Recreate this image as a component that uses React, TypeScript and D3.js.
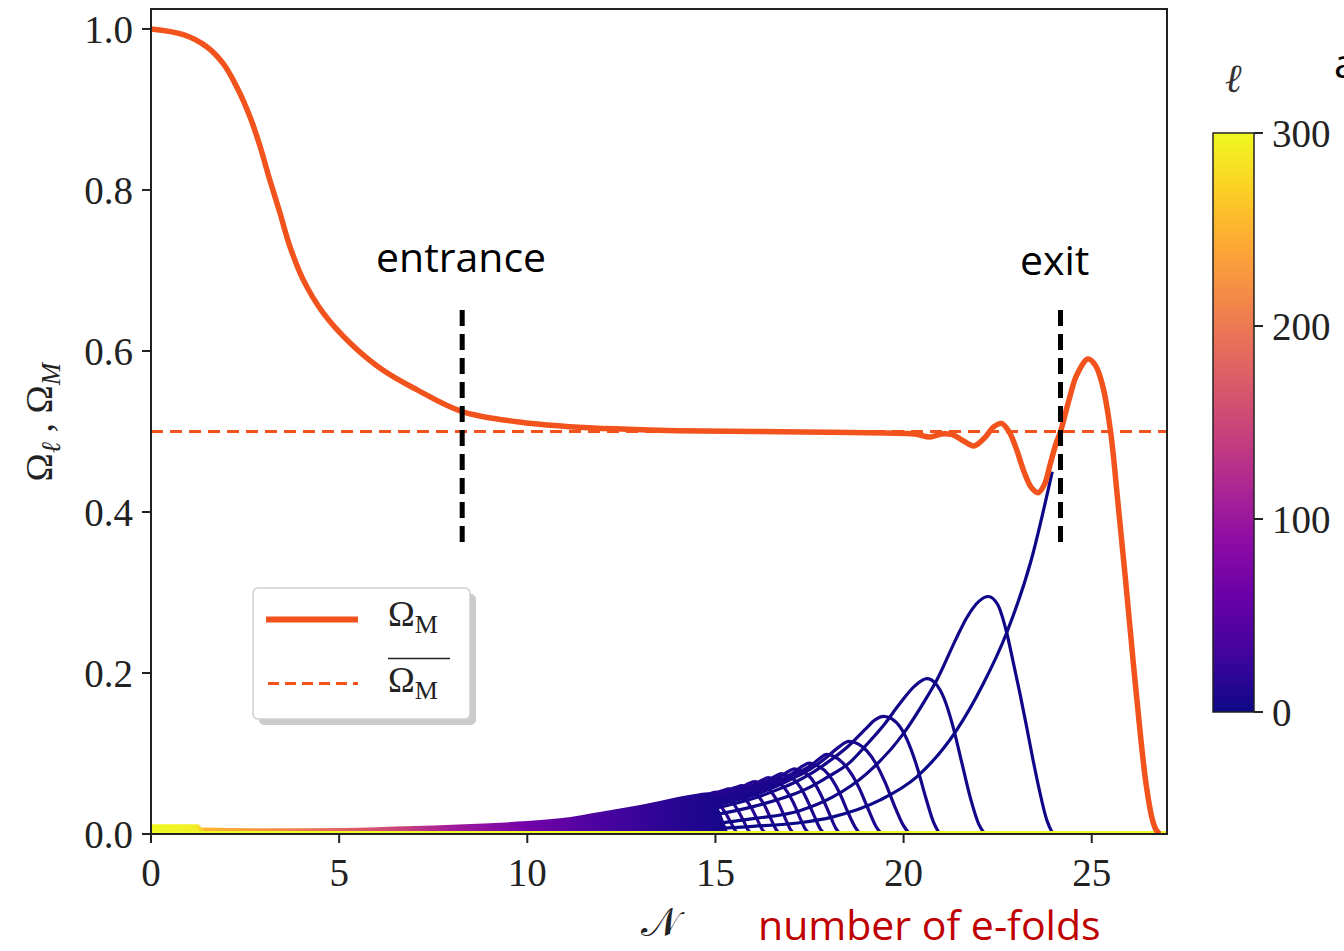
import React from "react";
import * as d3 from "d3";

// ---------- axis ticks ----------
const xTicks = [0, 5, 10, 15, 20, 25];
const yTicks = [0, 0.2, 0.4, 0.6, 0.8, 1.0];
const cbTicks = [0, 100, 200, 300];

// ---------- Omega_M (orange) ----------
const omegaN = [0, 0.86, 1.48, 1.92, 2.28, 2.63, 2.9, 3.16, 3.43, 3.69, 4.05, 4.58, 5.29, 6.17, 7.06, 8.25, 9.72, 11.13, 12.5, 14, 16, 18, 19.5, 20.3, 20.7, 21.0, 21.3, 21.6, 21.87, 22.15, 22.4, 22.6, 22.8, 23.0, 23.2, 23.4, 23.58, 23.75, 23.9, 24.05, 24.17, 24.4, 24.6, 24.9, 25.1, 25.3, 25.5, 25.7, 25.9, 26.1, 26.3, 26.45, 26.6, 26.7, 26.8];
const omegaM = [1.0, 0.993, 0.978, 0.957, 0.928, 0.891, 0.854, 0.812, 0.771, 0.73, 0.688, 0.647, 0.61, 0.576, 0.552, 0.525, 0.512, 0.506, 0.503, 0.501, 0.5, 0.499, 0.498, 0.497, 0.493, 0.497, 0.496, 0.488, 0.482, 0.492, 0.506, 0.51, 0.5, 0.478, 0.45, 0.43, 0.424, 0.435, 0.46, 0.485, 0.5, 0.54, 0.57, 0.59, 0.582, 0.555, 0.5, 0.41, 0.315, 0.215, 0.12, 0.06, 0.02, 0.006, 0.0];

// mean Omega_M (dashed)
const meanN = [0, 27];
const meanM = [0.5, 0.5];

// ---------- entrance / exit markers ----------
const entranceN = 8.27;
const exitN = 24.17;
const markerLow = 0.357;
const markerHigh = 0.651;

// ---------- dense band of high-ell curves (upper boundary) ----------
const bandN = [0, 1.25, 1.35, 3, 5, 6, 7, 8, 9, 10, 10.87, 12, 13, 13.52, 14, 14.5, 14.8, 15.05, 15.35];
const bandTop = [0.012, 0.012, 0.008, 0.007, 0.0075, 0.0085, 0.0098, 0.0115, 0.0135, 0.016, 0.0195, 0.028, 0.036, 0.041, 0.046, 0.05, 0.052, 0.035, 0.0];
const bandStopN = [0, 1.2, 1.45, 3, 5, 6.5, 8, 10, 12, 14, 15.35];
const bandStopEll = [300, 292, 250, 225, 180, 150, 105, 66, 36, 12, 4];

// ---------- individual Omega_ell curves ----------
const curveEll = [1, 2, 3, 4, 5, 6, 7, 8, 9, 10, 11, 12, 13, 14, 15, 16];
const curveL1 = [[14, 0.005], [15, 0.007], [16, 0.0095], [17.24, 0.014], [18.1, 0.021], [19.37, 0.042], [20.35, 0.071], [21.41, 0.129], [22.1, 0.185], [22.74, 0.25], [23.39, 0.34], [23.95, 0.45]];
const curveP1 = [[14, 0.009], [15, 0.013], [16, 0.019], [17.24, 0.029], [18.12, 0.046], [19.02, 0.075], [20.0, 0.125], [20.62, 0.17], [20.88, 0.191], [21.4, 0.243], [21.67, 0.268], [22.0, 0.289], [22.25, 0.295], [22.5, 0.285], [22.74, 0.25], [22.92, 0.212], [23.09, 0.175], [23.27, 0.133], [23.44, 0.092], [23.62, 0.052], [23.8, 0.018], [23.97, 0]];
const curveP2 = [[14, 0.017], [15, 0.024], [16, 0.034], [17, 0.048], [17.5, 0.058], [17.95, 0.07], [18.55, 0.088], [19.0, 0.11], [19.47, 0.135], [19.9, 0.162], [20.3, 0.184], [20.62, 0.193], [20.85, 0.187], [21.08, 0.168], [21.31, 0.134], [21.54, 0.09], [21.78, 0.044], [22.0, 0.012], [22.16, 0]];
const curveP3 = [[14, 0.023], [15, 0.032], [16, 0.044], [16.75, 0.057], [17.1, 0.064], [17.5, 0.074], [17.95, 0.088], [18.55, 0.11], [19.0, 0.131], [19.25, 0.142], [19.47, 0.146], [19.69, 0.143], [19.92, 0.132], [20.14, 0.112], [20.36, 0.083], [20.59, 0.045], [20.8, 0.014], [20.96, 0]];
const curveP4 = [[14, 0.026], [15, 0.036], [16, 0.048], [16.4, 0.055], [16.75, 0.062], [17.1, 0.07], [17.5, 0.08], [17.95, 0.095], [18.25, 0.107], [18.55, 0.115], [18.79, 0.112], [19.03, 0.103], [19.27, 0.087], [19.51, 0.064], [19.75, 0.036], [19.99, 0.011], [20.16, 0]];
const curveP5 = [[14, 0.028], [15, 0.038], [16, 0.051], [16.4, 0.058], [16.75, 0.065], [17.1, 0.074], [17.5, 0.084], [17.75, 0.093], [17.95, 0.099], [18.17, 0.096], [18.39, 0.088], [18.61, 0.075], [18.83, 0.056], [19.05, 0.032], [19.27, 0.009], [19.42, 0]];
const curveP6 = [[14, 0.03], [15, 0.04], [15.7, 0.049], [16.05, 0.054], [16.4, 0.061], [16.75, 0.068], [17.1, 0.077], [17.3, 0.084], [17.5, 0.088], [17.7, 0.085], [17.9, 0.079], [18.11, 0.067], [18.31, 0.05], [18.51, 0.028], [18.72, 0.008], [18.85, 0]];
const curveP7 = [[14, 0.033], [15, 0.042], [15.35, 0.047], [15.7, 0.052], [16.05, 0.057], [16.4, 0.064], [16.75, 0.072], [16.95, 0.078], [17.1, 0.081], [17.28, 0.078], [17.47, 0.073], [17.65, 0.062], [17.83, 0.046], [18.02, 0.026], [18.2, 0.007], [18.32, 0]];
const curveP8 = [[14, 0.035], [15, 0.044], [15.35, 0.049], [15.7, 0.054], [16.05, 0.06], [16.4, 0.067], [16.6, 0.072], [16.75, 0.075], [16.92, 0.072], [17.1, 0.067], [17.27, 0.057], [17.44, 0.042], [17.61, 0.024], [17.79, 0.006], [17.9, 0]];
const curveP9 = [[14, 0.036], [15, 0.046], [15.35, 0.051], [15.7, 0.056], [16.05, 0.062], [16.25, 0.067], [16.4, 0.07], [16.57, 0.067], [16.73, 0.062], [16.9, 0.053], [17.06, 0.04], [17.23, 0.022], [17.39, 0.006], [17.5, 0]];
const curveP10 = [[14, 0.038], [15, 0.048], [15.35, 0.053], [15.7, 0.058], [15.9, 0.063], [16.05, 0.065], [16.21, 0.063], [16.37, 0.058], [16.52, 0.05], [16.68, 0.038], [16.84, 0.021], [17.0, 0.005], [17.1, 0]];
const curveP11 = [[14, 0.039], [15, 0.05], [15.35, 0.055], [15.55, 0.058], [15.7, 0.06], [15.85, 0.058], [16.0, 0.054], [16.16, 0.046], [16.31, 0.035], [16.46, 0.02], [16.62, 0.005], [16.72, 0]];
const curveP12 = [[14, 0.04], [15, 0.051], [15.2, 0.054], [15.35, 0.056], [15.5, 0.054], [15.65, 0.05], [15.8, 0.043], [15.95, 0.033], [16.1, 0.019], [16.25, 0.005], [16.35, 0]];
const curveP13 = [[14, 0.041], [14.8, 0.049], [15.0, 0.052], [15.15, 0.05], [15.3, 0.046], [15.44, 0.04], [15.59, 0.03], [15.74, 0.017], [15.88, 0.004], [15.98, 0]];
const curveP14 = [[14, 0.041], [14.5, 0.046], [14.65, 0.047], [14.8, 0.046], [14.95, 0.043], [15.09, 0.037], [15.24, 0.028], [15.39, 0.016], [15.53, 0.004], [15.62, 0]];
const curveP15 = [[14, 0.041], [14.3, 0.043], [14.45, 0.042], [14.6, 0.04], [14.74, 0.034], [14.89, 0.026], [15.04, 0.015], [15.18, 0.004], [15.27, 0]];
const curves = [curveL1, curveP1, curveP2, curveP3, curveP4, curveP5, curveP6, curveP7, curveP8, curveP9, curveP10, curveP11, curveP12, curveP13, curveP14, curveP15];

const ORANGE = "#f2521c";
const SERIF = "'Liberation Serif', 'DejaVu Serif', serif";
const SANS = "'Open Sans', 'Noto Sans', sans-serif";

export default function App() {
  const W = 1344;
  const H = 951;
  const L = 151, R = 1167, T = 9, B = 834;
  const x = d3.scaleLinear().domain([0, 27]).range([L, R]);
  const y = d3.scaleLinear().domain([0, 1.0248]).range([B, T]);
  const cb = d3.scaleLinear().domain([0, 300]).range([712, 133]);

  const line = d3
    .line<number[]>()
    .x((d) => x(d[0]))
    .y((d) => y(d[1]))
    .curve(d3.curveMonotoneX);
  const smoothLine = d3
    .line<number[]>()
    .x((d) => x(d[0]))
    .y((d) => y(d[1]))
    .curve(d3.curveCatmullRom.alpha(0.5));
  const area = d3
    .area<number[]>()
    .x((d) => x(d[0]))
    .y0(y(0))
    .y1((d) => y(d[1]))
    .curve(d3.curveMonotoneX);

  const omegaPts = omegaN.map((n, i) => [n, omegaM[i]]);
  const meanPts = meanN.map((n, i) => [n, meanM[i]]);
  const bandPts = bandN.map((n, i) => [n, bandTop[i]]);
  const plasma = (ell: number) => d3.interpolatePlasma(ell / 300);

  const cbStops = d3.range(0, 11).map((i) => i / 10);
  const bandX0 = x(0);
  const bandX1 = x(bandStopN[bandStopN.length - 1]);

  return (
    <svg
      width={W}
      height={H}
      viewBox={`0 0 ${W} ${H}`}
      style={{ position: "absolute", left: 0, top: 0, background: "#fff" }}
    >
      <defs>
        <clipPath id="plotClip">
          <rect x={L} y={T} width={R - L} height={B - T} />
        </clipPath>
        <linearGradient id="cbGrad" x1="0" y1="1" x2="0" y2="0">
          {cbStops.map((t) => (
            <stop key={t} offset={t} stopColor={d3.interpolatePlasma(t)} />
          ))}
        </linearGradient>
        <linearGradient id="bandGrad" gradientUnits="userSpaceOnUse" x1={bandX0} y1={0} x2={bandX1} y2={0}>
          {bandStopN.map((n, i) => (
            <stop key={n} offset={(x(n) - bandX0) / (bandX1 - bandX0)} stopColor={plasma(bandStopEll[i])} />
          ))}
        </linearGradient>
      </defs>

      <rect x={0} y={0} width={W} height={H} fill="#fff" />

      <g clipPath="url(#plotClip)">
        {curves
          .map((c, i) => ({ c, i }))
          .reverse()
          .map(({ c, i }) => (
            <path key={i} d={line(c) || ""} fill="none" stroke={plasma(curveEll[i])} strokeWidth={3.2} />
          ))}
        <path d={area(bandPts) || ""} fill="url(#bandGrad)" />
        <path d={line([[0, 0.002], [27, 0.002]]) || ""} stroke={plasma(300)} strokeWidth={3} fill="none" />
        <path d={line(meanPts) || ""} fill="none" stroke={ORANGE} strokeWidth={2.8} strokeDasharray="12 7" />
        <path d={smoothLine(omegaPts) || ""} fill="none" stroke={ORANGE} strokeWidth={5.5} strokeLinejoin="round" />
      </g>

      {[entranceN, exitN].map((n) => (
        <line key={n} x1={x(n)} x2={x(n)} y1={y(markerHigh)} y2={y(markerLow)} stroke="#000" strokeWidth={5} strokeDasharray="16 8" />
      ))}

      {/* frame */}
      <rect x={L} y={T} width={R - L} height={B - T} fill="none" stroke="#222" strokeWidth={2} />

      {/* y ticks */}
      {yTicks.map((t) => (
        <g key={t}>
          <line x1={L - 9} x2={L} y1={y(t)} y2={y(t)} stroke="#222" strokeWidth={2} />
          <text x={L - 18} y={y(t)} dy="0.35em" textAnchor="end" fontFamily={SERIF} fontSize={39} fill="#222">
            {t.toFixed(1)}
          </text>
        </g>
      ))}
      {/* x ticks */}
      {xTicks.map((t) => (
        <g key={t}>
          <line x1={x(t)} x2={x(t)} y1={B} y2={B + 9} stroke="#222" strokeWidth={2} />
          <text x={x(t)} y={B + 52} textAnchor="middle" fontFamily={SERIF} fontSize={39} fill="#222">
            {t}
          </text>
        </g>
      ))}

      {/* axis labels */}
      <text x={660} y={936} textAnchor="middle" fontFamily="'DejaVu Serif', serif" fontSize={40} fill="#222">
        𝒩
      </text>
      <text transform="translate(52,422) rotate(-90)" textAnchor="middle" fontFamily={SERIF} fontSize={38} fill="#222">
        Ω<tspan dy={8} fontSize={27} fontStyle="italic">ℓ</tspan>
        <tspan dy={-8}>{" ,  Ω"}</tspan>
        <tspan dy={8} fontSize={27} fontStyle="italic">M</tspan>
      </text>

      {/* legend */}
      <rect x={259} y={594} width={217} height={131} rx={5} fill="#a9a9a9" opacity={0.6} />
      <rect x={253} y={588} width={217} height={131} rx={5} fill="#fff" stroke="#cfcfcf" strokeWidth={1.5} />
      <line x1={266} x2={358} y1={619.5} y2={619.5} stroke={ORANGE} strokeWidth={6} />
      <line x1={268} x2={358} y1={683.5} y2={683.5} stroke={ORANGE} strokeWidth={3} strokeDasharray="11 6" />
      <text x={388} y={626} fontFamily={SERIF} fontSize={36} fill="#222">
        Ω<tspan dy={7} fontSize={26}>M</tspan>
      </text>
      <line x1={388} x2={450} y1={658.5} y2={658.5} stroke="#222" strokeWidth={1.6} />
      <text x={388} y={692} fontFamily={SERIF} fontSize={36} fill="#222">
        Ω<tspan dy={7} fontSize={26}>M</tspan>
      </text>

      {/* annotations */}
      <text x={376} y={272} fontFamily={SANS} fontSize={41} fill="#000">entrance</text>
      <text x={1020} y={275} fontFamily={SANS} fontSize={41} fill="#000">exit</text>
      <text x={758} y={940} fontFamily={SANS} fontSize={41} fill="#c00000">number of e-folds</text>
      <text x={1334} y={78} fontFamily={SANS} fontSize={41} fill="#000">a</text>

      {/* colorbar */}
      <rect x={1213} y={cb(300)} width={41} height={cb(0) - cb(300)} fill="url(#cbGrad)" stroke="#222" strokeWidth={1.5} />
      {cbTicks.map((t) => (
        <g key={t}>
          <line x1={1254} x2={1263} y1={cb(t)} y2={cb(t)} stroke="#222" strokeWidth={2} />
          <text x={1272} y={cb(t)} dy="0.35em" fontFamily={SERIF} fontSize={39} fill="#222">
            {t}
          </text>
        </g>
      ))}
      <text x={1233} y={92} textAnchor="middle" fontFamily={SERIF} fontStyle="italic" fontSize={40} fill="#333">
        ℓ
      </text>
    </svg>
  );
}
